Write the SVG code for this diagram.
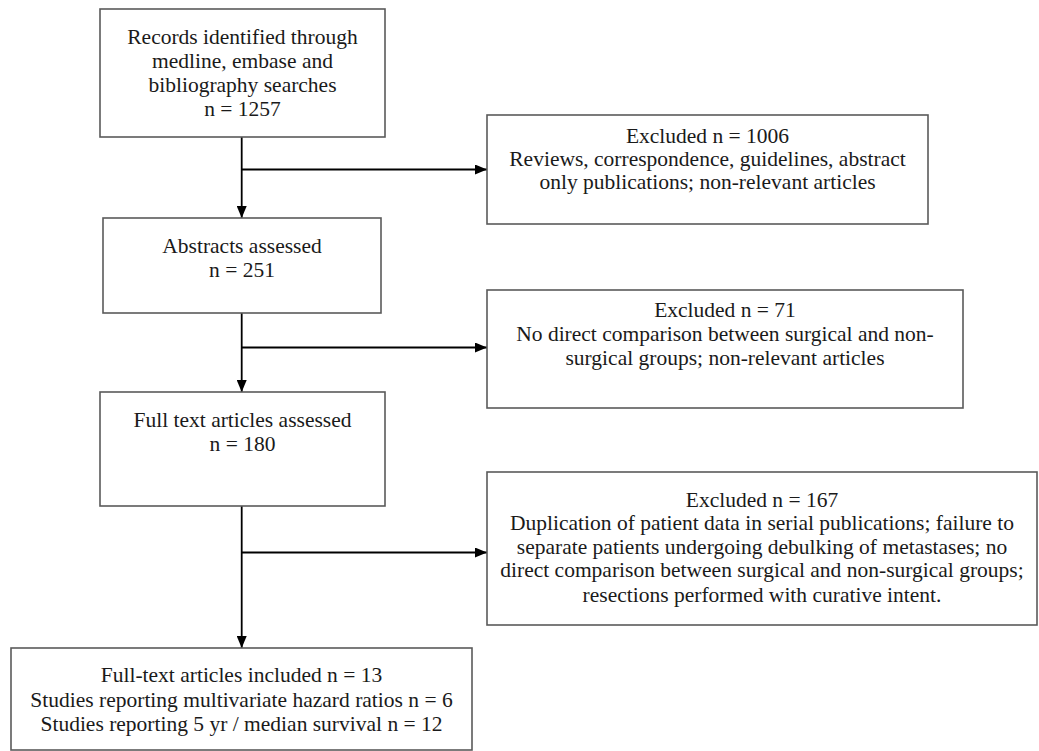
<svg xmlns="http://www.w3.org/2000/svg" width="1039" height="751" viewBox="0 0 1039 751">
<style>
.box{fill:#fff;stroke:#5a5a5a;stroke-width:1.6}
.t{font-family:"Liberation Serif","Times New Roman",serif;font-size:21.5px;fill:#1a1a1a;text-anchor:middle}
.c{fill:none;stroke:#000;stroke-width:1.8}
</style>
<defs>
<marker id="ah" viewBox="0 0 12 10" refX="12" refY="5" markerWidth="12" markerHeight="10" markerUnits="userSpaceOnUse" orient="auto">
<path d="M0,0 L12,5 L0,10 Z" fill="#000"/>
</marker>
</defs>
<rect width="1039" height="751" fill="#fff"/>
<g id="connectors">
<line class="c" x1="241.7" y1="137" x2="241.7" y2="218" marker-end="url(#ah)"/>
<line class="c" x1="241.7" y1="169.5" x2="487" y2="169.5" marker-end="url(#ah)"/>
<line class="c" x1="241.7" y1="313" x2="241.7" y2="392" marker-end="url(#ah)"/>
<line class="c" x1="241.7" y1="347.5" x2="487" y2="347.5" marker-end="url(#ah)"/>
<line class="c" x1="241.7" y1="506" x2="241.7" y2="648" marker-end="url(#ah)"/>
<line class="c" x1="241.7" y1="552.5" x2="487" y2="552.5" marker-end="url(#ah)"/>
</g>
<g id="records">
<rect class="box" x="100" y="9" width="285" height="128"/>
<text class="t" x="242.5" y="44">Records identified through</text>
<text class="t" x="242.5" y="68">medline, embase and</text>
<text class="t" x="242.5" y="92">bibliography searches</text>
<text class="t" x="242.5" y="116">n = 1257</text>
</g>
<g id="excluded1">
<rect class="box" x="487" y="115" width="441" height="109"/>
<text class="t" x="707.5" y="142.5">Excluded n = 1006</text>
<text class="t" x="707.5" y="166">Reviews, correspondence, guidelines, abstract</text>
<text class="t" x="707.5" y="189">only publications; non-relevant articles</text>
</g>
<g id="abstracts">
<rect class="box" x="103" y="218" width="278" height="95"/>
<text class="t" x="242" y="253">Abstracts assessed</text>
<text class="t" x="242" y="277">n = 251</text>
</g>
<g id="excluded2">
<rect class="box" x="487" y="290" width="476" height="118"/>
<text class="t" x="725" y="317">Excluded n = 71</text>
<text class="t" x="725" y="341">No direct comparison between surgical and non-</text>
<text class="t" x="725" y="364.5">surgical groups; non-relevant articles</text>
</g>
<g id="fulltext">
<rect class="box" x="100" y="392" width="285" height="114"/>
<text class="t" x="242.5" y="427">Full text articles assessed</text>
<text class="t" x="242.5" y="451">n = 180</text>
</g>
<g id="excluded3">
<rect class="box" x="487" y="472" width="550" height="153"/>
<text class="t" x="762" y="506.5">Excluded n = 167</text>
<text class="t" x="762" y="530">Duplication of patient data in serial publications; failure to</text>
<text class="t" x="762" y="553.5">separate patients undergoing debulking of metastases; no</text>
<text class="t" x="762" y="577">direct comparison between surgical and non-surgical groups;</text>
<text class="t" x="762" y="601.5">resections performed with curative intent.</text>
</g>
<g id="included">
<rect class="box" x="11" y="648" width="461" height="102"/>
<text class="t" x="241.5" y="682">Full-text articles included n = 13</text>
<text class="t" x="241.5" y="706.5">Studies reporting multivariate hazard ratios n = 6</text>
<text class="t" x="241.5" y="730.5">Studies reporting 5 yr / median survival n = 12</text>
</g>
</svg>
